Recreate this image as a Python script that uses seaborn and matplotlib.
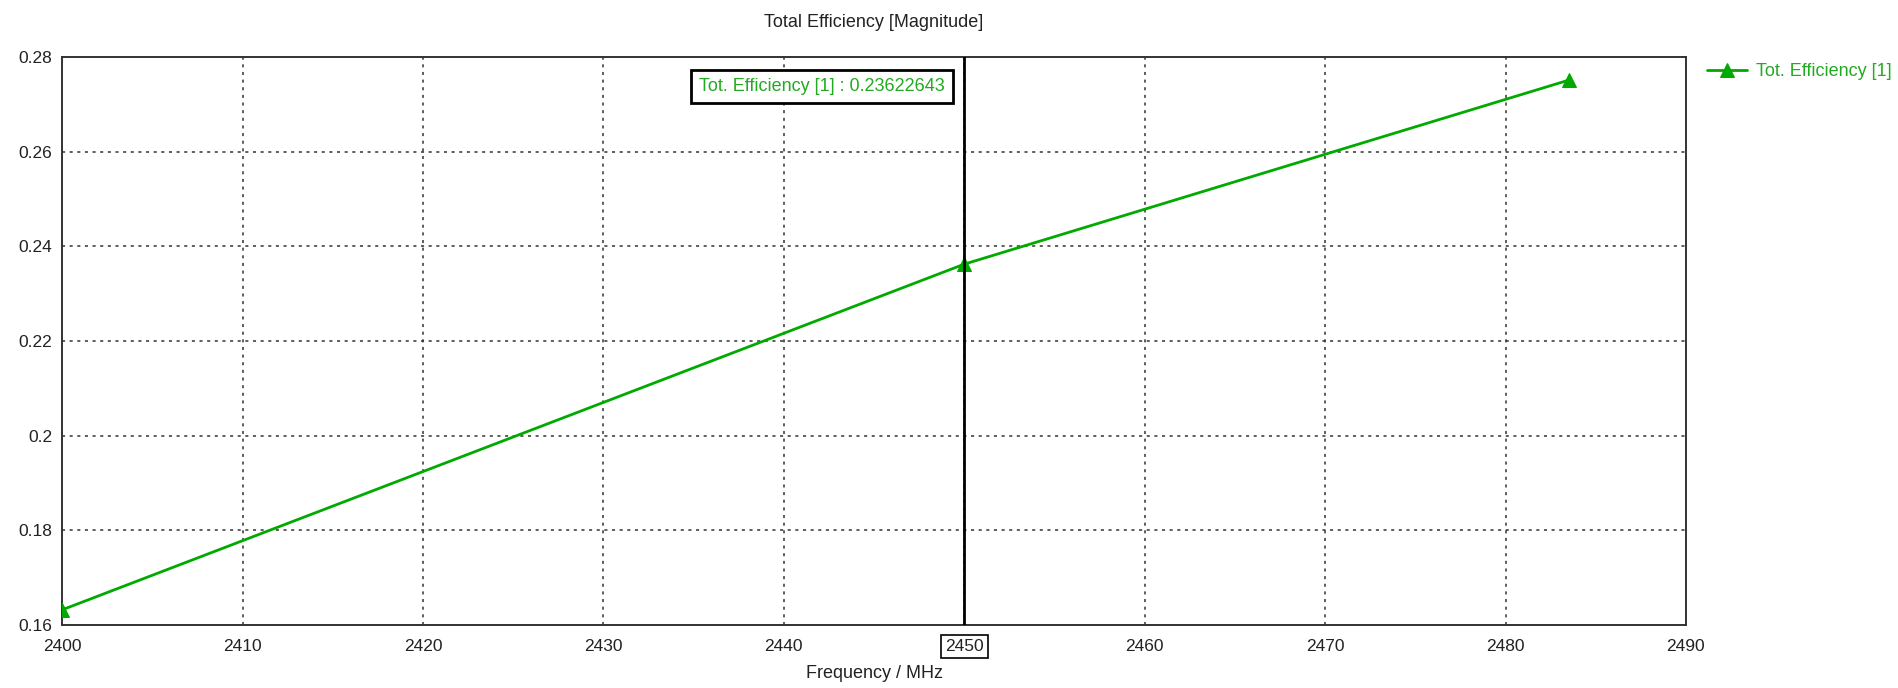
import numpy as np
import pandas as pd
import matplotlib
matplotlib.use("Agg")
import matplotlib.pyplot as plt
import seaborn as sns
from matplotlib.ticker import FuncFormatter

# Values
freq_mhz = [2400.0, 2450.0, 2483.5]
tot_eff = [0.1632, 0.23622643, 0.2751]
marker_freq = 2450
marker_value = 0.23622643
x_ticks = [2400, 2410, 2420, 2430, 2440, 2450, 2460, 2470, 2480, 2490]
y_ticks = [0.16, 0.18, 0.20, 0.22, 0.24, 0.26, 0.28]

green = "#00AA00"
text_green = "#22AA22"

sns.set_style("white")
plt.rcParams['font.family'] = ['Liberation Sans', 'DejaVu Sans']

df = pd.DataFrame({'Frequency': freq_mhz, 'Eff': tot_eff})

fig = plt.figure(figsize=(18.99, 6.88), dpi=100)
ax = fig.add_axes([0.0327, 0.0916, 0.8551, 0.8256])

sns.lineplot(x='Frequency', y='Eff', data=df, ax=ax, color=green, linewidth=2,
             marker='^', markersize=10, markeredgecolor=green,
             label='Tot. Efficiency [1]', zorder=3)

ax.set_xlim(2400, 2490)
ax.set_ylim(0.16, 0.28)
ax.set_xticks(x_ticks)
ax.set_yticks(y_ticks)
ax.yaxis.set_major_formatter(FuncFormatter(lambda v, p: '{:g}'.format(round(v, 2))))
ax.grid(True, color='#333333', linestyle=(0, (2, 3)), linewidth=1.1)
for s in ax.spines.values():
    s.set_color('#333333')
    s.set_linewidth(1.4)
ax.tick_params(axis='both', direction='out', length=4, width=1.2, color='#333333',
               labelsize=12.5, labelcolor='#222222', pad=3)
ax.tick_params(axis='x', pad=6)

# vertical marker line and its boxed tick label
ax.axvline(marker_freq, color='black', linewidth=2, zorder=4)
for lbl in ax.get_xticklabels():
    if lbl.get_text() == str(marker_freq):
        lbl.set_bbox(dict(facecolor='white', edgecolor='black', linewidth=1.2, pad=3))

ax.text(2448.9, 0.2738, 'Tot. Efficiency [1] : {:.8f}'.format(marker_value),
        ha='right', va='center', fontsize=13, color=text_green, zorder=5,
        bbox=dict(facecolor='white', edgecolor='black', linewidth=2, boxstyle='square,pad=0.45'))

ax.set_xlabel('Frequency / MHz', fontsize=13, color='#222222', labelpad=8)
ax.set_ylabel('')
fig.suptitle('Total Efficiency [Magnitude]', fontsize=13, color='#222222',
             x=0.46, y=0.98)

leg = ax.legend(loc='upper left', bbox_to_anchor=(1.003, 1.018), frameon=False,
                fontsize=13, handlelength=2.2, handletextpad=0.5)
for t in leg.get_texts():
    t.set_color(text_green)

plt.savefig('out.png', dpi=100)
